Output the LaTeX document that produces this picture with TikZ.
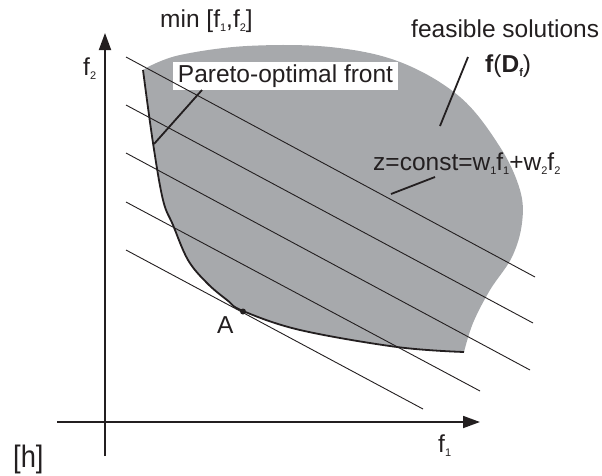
\documentclass[tikz,border=0pt]{standalone}
\usepackage{fontspec}
\setmainfont{Liberation Sans}
\usetikzlibrary{arrows.meta}
\definecolor{regiongray}{RGB}{167,169,172}
\definecolor{ink}{RGB}{35,31,32}
\newcommand{\sbs}[1]{\raisebox{-4pt}{\fontsize{11}{11}\selectfont #1}}
\begin{document}
\begin{tikzpicture}[x=1pt,y=-1pt,
  lbl/.style={inner sep=0pt, font=\fontsize{24.5}{29}\selectfont, text=ink},
  thinline/.style={draw=ink, line width=0.9pt},
  thickline/.style={draw=ink, line width=1.8pt},
  axisline/.style={draw=ink, line width=1.8pt, -{Triangle[length=17pt,width=12pt]}}]
\useasboundingbox (0,0) rectangle (602,475);
% feasible region
\fill[regiongray] plot[smooth, tension=0.6] coordinates {(143,70) (153,143) (163,200) (173,225) (188,260) (207,283) (227,300) (243,311) (300,330) (397,347) (464,352)}
  -- plot[smooth, tension=0.6] coordinates {(464,352) (473,323) (490,290) (512,257) (522,223) (520,190) (500,147) (460,97) (400,62) (330,47) (247,46) (180,55) (148,67)} -- cycle;
% Pareto front
\draw[thickline] plot[smooth, tension=0.6] coordinates {(143,70) (153,143) (163,200) (173,225) (188,260) (207,283) (227,300) (243,311) (300,330) (397,347) (464,352)};
% axes
\coordinate (yb) at (105,456);
\coordinate (yt) at (105,33);
\coordinate (xl) at (57,422);
\coordinate (xr) at (480,422);
\draw[axisline] (yb) -- (yt);
\draw[axisline] (xl) -- (xr);
% Pareto label box
\node[lbl, fill=white, minimum width=225pt, minimum height=28pt] (pareto) at (285.5,76) {Pareto-optimal front};
% level lines
\coordinate (l1a) at (126,57);  \coordinate (l1b) at (535,277);
\coordinate (l2a) at (126,105); \coordinate (l2b) at (533,323);
\coordinate (l3a) at (126,153); \coordinate (l3b) at (530,370);
\coordinate (l4a) at (126,202); \coordinate (l4b) at (480,391);
\coordinate (l5a) at (126,250); \coordinate (l5b) at (423,409);
\foreach \i in {1,...,5} {\draw[thinline] (l\i a) -- (l\i b);}
% point A
\coordinate (ptA) at (243,311.5);
\fill[ink] (ptA) circle (3pt);
% leaders
\coordinate (pl1) at (202,90); \coordinate (pl2) at (154,144);
\draw[thickline] (pl1) -- (pl2);
\coordinate (fl1) at (468,57); \coordinate (fl2) at (440,126);
\draw[thickline] (fl1) -- (fl2);
\coordinate (zl1) at (435,177); \coordinate (zl2) at (391,194);
\draw[thickline] (zl1) -- (zl2);
% labels
\node[lbl, anchor=base west] (minlbl) at (160,27) {min [f\sbs{1},f\sbs{2}]};
\node[lbl, anchor=base west] (feas) at (411,37) {feasible solutions};
\node[lbl, anchor=base west] (fdf) at (485,72) {\textbf{f}(\textbf{D}\sbs{\textbf{f}})};
\node[lbl, anchor=base west] (zlbl) at (373,170) {z=const=w\sbs{1}f\sbs{1}+w\sbs{2}f\sbs{2}};
\node[lbl, anchor=base west] (alab) at (217,333) {A};
\node[lbl, anchor=base west] (f1lab) at (438,452) {f\sbs{1}};
\node[lbl, anchor=base west] (f2lab) at (83,75) {f\sbs{2}};
\node[lbl, anchor=base west, font=\fontsize{31}{36}\selectfont, xscale=0.88] (hlab) at (13,467) {[h]};
\end{tikzpicture}
\end{document}
